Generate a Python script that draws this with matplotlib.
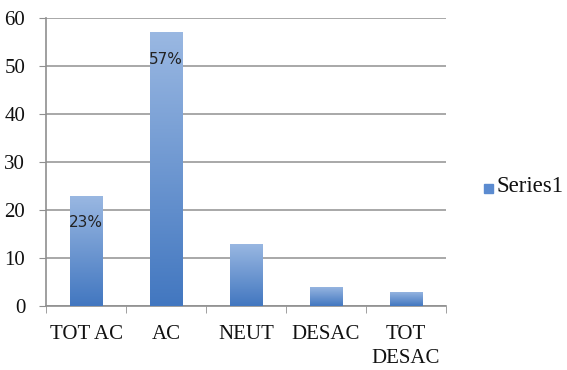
import numpy as np
import matplotlib
matplotlib.use("Agg")
import matplotlib.pyplot as plt
from matplotlib.colors import LinearSegmentedColormap

categories = ["TOT AC", "AC", "NEUT", "DESAC", "TOT\nDESAC"]
values = [23, 57, 13, 4, 3]
labelled = {0: "23%", 1: "57%"}
yticks = [0, 10, 20, 30, 40, 50, 60]

SERIF = "Liberation Serif"
AXIS_GREY = "#8f8f8f"

fig = plt.figure(figsize=(5.67, 3.70), dpi=100)
ax = fig.add_axes([46 / 567, (370 - 306) / 370, 400 / 567, 288 / 370])

x = np.arange(len(categories))
bars = ax.bar(x, values, width=0.41, color="none", edgecolor="none", zorder=3)

# vertical gradient fill, clipped to each bar
grad = LinearSegmentedColormap.from_list("bar", ["#4277c0", "#9ab8e2"])
g = np.linspace(0, 1, 256).reshape(-1, 1)
for b in bars:
    x0, y0 = b.get_x(), b.get_y()
    w, h = b.get_width(), b.get_height()
    im = ax.imshow(g, cmap=grad, origin="lower", aspect="auto",
                   extent=[x0, x0 + w, y0, y0 + h], zorder=3)
    im.set_clip_path(b)

for i, txt in labelled.items():
    ax.text(x[i], values[i] - 5.6, txt, ha="center", va="center",
            fontsize=11, family="DejaVu Sans", color="#222222", zorder=4)

ax.set_xlim(-0.5, len(categories) - 0.5)
ax.set_ylim(0, 60)
ax.set_yticks(yticks)
ax.set_yticklabels([str(t) for t in yticks])
ax.set_xticks(np.arange(len(categories) + 1) - 0.5, minor=True)
ax.set_xticks(x)
ax.set_xticklabels(categories)
ax.tick_params(axis="x", which="major", length=0, pad=14)
ax.tick_params(axis="x", which="minor", length=5, color=AXIS_GREY, direction="out")
ax.tick_params(axis="y", length=5, color=AXIS_GREY, direction="out", pad=10)
for lab in ax.get_xticklabels() + ax.get_yticklabels():
    lab.set_family(SERIF)
    lab.set_fontsize(15)
    lab.set_color("#111111")
for lab in ax.get_xticklabels():
    lab.set_linespacing(1.3)

ax.grid(axis="y", color="#9a9a9a", linewidth=1.2, zorder=0)
for s in ["top", "right"]:
    ax.spines[s].set_visible(False)
for s in ["left", "bottom"]:
    ax.spines[s].set_color(AXIS_GREY)
    ax.spines[s].set_linewidth(1.2)
ax.set_axisbelow(True)

# legend key and entry
fig.patches.append(plt.Rectangle((484 / 567, 1 - 193 / 370), 9 / 567, 9 / 370,
                                 transform=fig.transFigure, color="#5b8bd0"))
fig.text(497 / 567, 1 - 187 / 370, "Series1", va="center", ha="left",
         family=SERIF, fontsize=16.5, color="#111111")

fig.savefig("out.png", dpi=100)
